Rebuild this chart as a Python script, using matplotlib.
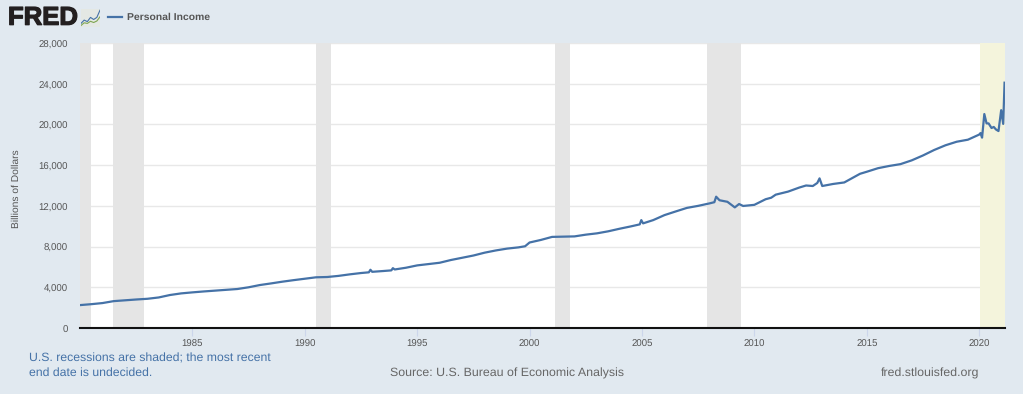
import matplotlib
matplotlib.use("Agg")
import matplotlib.pyplot as plt
import matplotlib.patheffects as pe
from matplotlib.lines import Line2D
from matplotlib.transforms import ScaledTranslation

W, H = 1023, 394
BG = "#e1e9f0"
LINE = "#4572a7"
plt.rcParams["font.family"] = ["Liberation Sans", "DejaVu Sans"]
plt.rcParams["text.hinting"] = "none"

years = [1980.0,1980.5,1981.0,1981.5,1982.0,1982.5,1983.0,1983.5,1984.0,1984.5,1985.0,1985.5,1986.0,1986.5,1987.0,1987.5,
         1988.0,1988.5,1989.0,1989.5,1990.0,1990.5,1991.0,1991.5,1992.0,1992.5,1992.85,1992.92,1993.0,1993.5,1993.85,1993.92,1994.0,
         1994.5,1995.0,1995.5,1996.0,1996.5,1997.0,1997.5,1998.0,1998.5,1999.0,1999.5,1999.8,2000.0,2000.5,2001.0,2002.0,2002.5,
         2003.0,2003.5,2004.0,2004.5,2004.9,2004.97,2005.05,2005.5,2006.0,2006.5,2007.0,2007.5,2008.0,2008.22,2008.3,2008.45,2008.8,
         2009.13,2009.32,2009.5,2010.0,2010.5,2010.75,2010.95,2011.5,2012.0,2012.3,2012.6,2012.8,2012.9,2013.02,2013.5,
         2014.0,2014.7,2015.0,2015.5,2016.0,2016.5,2017.0,2017.5,2018.0,2018.5,2019.0,2019.5,2020.0,2020.06,2020.13,2020.23,2020.33,
         2020.42,2020.55,2020.65,2020.75,2020.86,2020.98,2021.07,2021.13]
personal_income = [2250,2340,2450,2640,2720,2800,2870,3000,3240,3400,3500,3590,3670,3750,3830,4000,
                   4220,4380,4550,4700,4840,4980,5010,5120,5270,5400,5470,5720,5520,5600,5660,5880,5750,
                   5920,6150,6280,6410,6680,6900,7120,7400,7620,7800,7920,8030,8400,8650,8950,9000,9170,
                   9300,9500,9750,9980,10180,10600,10280,10600,11090,11450,11800,12000,12240,12360,12900,12550,12400,
                   11850,12180,11990,12100,12650,12800,13100,13400,13800,14000,13950,14250,14700,13950,14150,
                   14300,15150,15350,15700,15920,16100,16470,16950,17490,17950,18300,18500,19000,19150,18700,21020,20100,
                   20100,19650,19750,19500,19350,21400,20050,24100]
yticks = [0,4000,8000,12000,16000,20000,24000,28000]
xticks = [1985,1990,1995,2000,2005,2010,2015,2020]
rec_start = [1980.0,1981.48,1990.48,2001.12,2007.88]
rec_end = [1980.47,1982.85,1991.15,2001.79,2009.4]
cur_start, x_max = 2020.05, 2021.15

fig = plt.figure(figsize=(W/100, H/100), dpi=100, facecolor=BG)
L, R, T, B = 80.0, 1005.0, 43.0, 328.0
ax = fig.add_axes([L/W, 1-B/H, (R-L)/W, (B-T)/H], facecolor="white")
ax.set_xlim(1980.0, x_max)
ax.set_ylim(0, 28000)
for s, e in zip(rec_start, rec_end):
    ax.axvspan(s, e, color="#e5e5e5", lw=0, zorder=1)
ax.axvspan(cur_start, x_max, color="#f4f4dc", lw=0, zorder=1)
ax.set_yticks(yticks)
ax.set_yticklabels([f"{v:,}" for v in yticks], fontsize=6.9, color="#555555")
ax.set_xticks(xticks)
ax.set_xticklabels([str(v) for v in xticks], fontsize=6.9, color="#555555")
ax.grid(axis="y", color="#e8e8e8", lw=1, zorder=2)
ax.set_axisbelow(True)
ax.tick_params(axis="y", length=0, pad=9)
ax.tick_params(axis="x", length=6, width=0.8, color="#ccd6eb", pad=2.3)
shift = ScaledTranslation(0, -1/100, fig.dpi_scale_trans)
for lab in ax.get_yticklabels():
    lab.set_transform(lab.get_transform() + shift)
for sp in ("top", "right", "left"):
    ax.spines[sp].set_visible(False)
ax.spines["bottom"].set_color("#111111")
ax.spines["bottom"].set_linewidth(1.5)
ax.spines["bottom"].set_zorder(6)
ax.plot(years, personal_income, color=LINE, lw=1.6, zorder=5, clip_on=True, solid_joinstyle="round")
ax.set_ylabel("Billions of Dollars", fontsize=7.4, color="#555555", va="center", ha="center")
ax.yaxis.set_label_coords((16.5-L)/(R-L), 1-(188.5-T)/(B-T))

def px(x, y, s, **k):
    return fig.text(x/W, 1-y/H, s, **k)

logo = px(8, 18, "FRED", fontsize=18.5, fontweight="bold", color="#231f20", va="center", ha="left")
logo.set_path_effects([pe.withStroke(linewidth=0.9, foreground="#231f20")])
fig.add_artist(Line2D([108/W, 122/W], [1-17/H, 1-17/H], color=LINE, lw=1.6))
px(127, 17, "Personal Income", fontsize=7.5, fontweight="bold", color="#555555", va="center")

# small logo icon
ic = fig.add_axes([81/W, 1-27/H, 19/W, 18/H], facecolor="#e4e8e4")
ic.set_xlim(0, 6); ic.set_ylim(0, 6)
ic.set_xticks([]); ic.set_yticks([])
for sp in ic.spines.values():
    sp.set_visible(False)
ic.plot([0, 1, 2, 3, 4, 5, 6], [1.2, 2.3, 1.8, 3.2, 2.5, 3.2, 5.6], color=LINE, lw=0.8)
ic.plot([0, 1, 2, 3, 4, 5, 6], [0.5, 1.4, 1.2, 1.9, 1.5, 2.0, 3.4], color="#7fa650", lw=0.8)

note_kw = dict(fontsize=8.85, color=LINE, va="center", ha="left")
px(29, 358, "U.S. recessions are shaded; the most recent", **note_kw)
px(29, 373, "end date is undecided.", **note_kw)
px(390, 373, "Source: U.S. Bureau of Economic Analysis", fontsize=8.95, color="#666666", va="center")
px(881, 373, "fred.stlouisfed.org", fontsize=8.95, color="#666666", va="center")

fig.savefig("out.png", dpi=100, facecolor=BG)
